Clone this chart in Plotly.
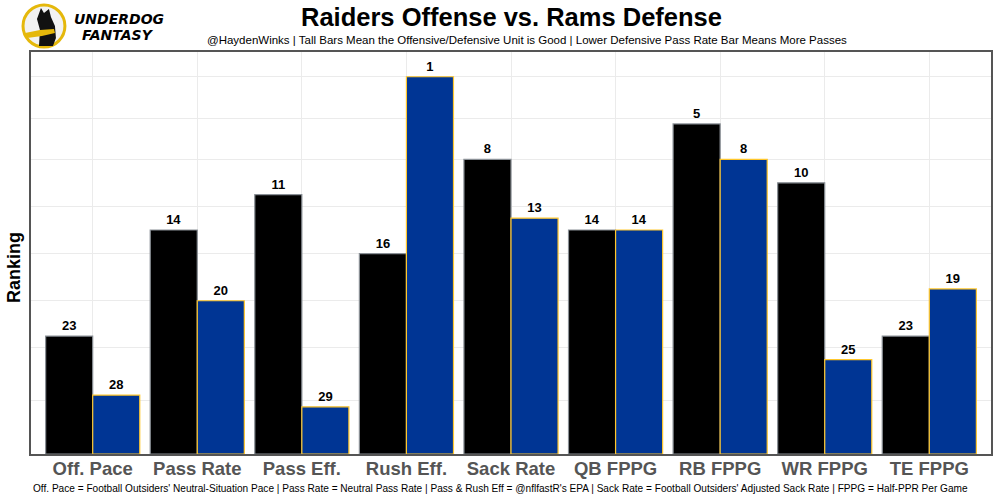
import plotly.graph_objects as go

categories = ["Off. Pace", "Pass Rate", "Pass Eff.", "Rush Eff.", "Sack Rate",
              "QB FPPG", "RB FPPG", "WR FPPG", "TE FPPG"]
offense_rank = [23, 14, 11, 16, 8, 14, 5, 10, 23]
defense_rank = [28, 20, 29, 1, 13, 14, 8, 25, 19]
grid_vals = [4.5, 9, 13, 17, 21, 25, 28.5, 32]

N_TEAMS = 33
off_h = [N_TEAMS - r for r in offense_rank]
def_h = [N_TEAMS - r for r in defense_rank]

W, H = 1000, 500
L, R, T, B = 31, 7, 52, 46
PW, PH = W - L - R, H - T - B

def px(x):
    return (x - L) / PW

def py(y):
    return (H - B - y) / PH

fig = go.Figure()
fig.add_bar(x=categories, y=off_h, text=[str(r) for r in offense_rank],
            marker=dict(color="#000000", line=dict(color="#8a9096", width=1.2)),
            textposition="outside", cliponaxis=False,
            textfont=dict(family="Liberation Sans, Arial", size=13, color="#000000"),
            name="Offense")
fig.add_bar(x=categories, y=def_h, text=[str(r) for r in defense_rank],
            marker=dict(color="#003594", line=dict(color="#FFC72C", width=1.2)),
            textposition="outside", cliponaxis=False,
            textfont=dict(family="Liberation Sans, Arial", size=13, color="#000000"),
            name="Defense")
fig.update_traces(texttemplate="<b>%{text}</b>", hoverinfo="skip")

shapes = []
# logo
cx, cy, r = 44, 26, 21
shapes.append(dict(type="circle", xref="paper", yref="paper",
                   x0=px(cx - r), x1=px(cx + r), y0=py(cy + r), y1=py(cy - r),
                   fillcolor="#f2f2f2", line=dict(color="#E5B80B", width=3)))
dog = [(39, 46), (40, 30), (37, 19), (41, 8), (44, 13), (49, 9), (51, 17),
       (55, 26), (56, 38), (53, 46)]
path = "M " + " L ".join(f"{px(x)},{py(y)}" for x, y in dog) + " Z"
shapes.append(dict(type="path", xref="paper", yref="paper", path=path,
                   fillcolor="#111111", line=dict(width=0)))
scarf = [(25, 33), (40, 30), (54, 29), (55, 33), (42, 36), (27, 38)]
path2 = "M " + " L ".join(f"{px(x)},{py(y)}" for x, y in scarf) + " Z"
shapes.append(dict(type="path", xref="paper", yref="paper", path=path2,
                   fillcolor="#E5B80B", line=dict(width=0)))

annotations = [
    dict(text="<b><i>UNDERDOG</i></b>", x=px(72), y=py(19), xref="paper", yref="paper",
         xanchor="left", yanchor="middle", showarrow=False,
         font=dict(family="DejaVu Sans", size=14, color="#000")),
    dict(text="<b><i>FANTASY</i></b>", x=px(80), y=py(35), xref="paper", yref="paper",
         xanchor="left", yanchor="middle", showarrow=False,
         font=dict(family="DejaVu Sans", size=14, color="#000")),
    dict(text="<b>Raiders Offense vs. Rams Defense</b>", x=px(513), y=py(17),
         xref="paper", yref="paper", xanchor="center", yanchor="middle", showarrow=False,
         font=dict(family="Liberation Sans, Arial", size=25.5, color="#000")),
    dict(text="@HaydenWinks | Tall Bars Mean the Offensive/Defensive Unit is Good | Lower Defensive Pass Rate Bar Means More Passes",
         x=px(528), y=py(40), xref="paper", yref="paper", xanchor="center", yanchor="middle",
         showarrow=False, font=dict(family="Liberation Sans, Arial", size=11.5, color="#000")),
    dict(text="Off. Pace = Football Outsiders' Neutral-Situation Pace | Pass Rate = Neutral Pass Rate | Pass & Rush Eff = @nflfastR's EPA | Sack Rate = Football Outsiders' Adjusted Sack Rate | FPPG = Half-PPR Per Game",
         x=px(501), y=py(488), xref="paper", yref="paper", xanchor="center", yanchor="middle",
         showarrow=False, font=dict(family="Liberation Sans, Arial", size=10.1, color="#000")),
    dict(text="<b>Ranking</b>", x=px(14), y=py(268), xref="paper", yref="paper",
         xanchor="center", yanchor="middle", showarrow=False, textangle=-90,
         font=dict(family="Liberation Sans, Arial", size=18, color="#000")),
]

fig.update_layout(
    width=W, height=H, margin=dict(l=L, r=R, t=T, b=B),
    paper_bgcolor="white", plot_bgcolor="white",
    barmode="group", bargap=0.1, bargroupgap=0,
    showlegend=False, shapes=shapes, annotations=annotations,
    font=dict(family="Liberation Sans, Arial"),
    hovermode=False,
)
fig.update_xaxes(range=[-0.59, 8.59], showgrid=True, gridcolor="#ebebeb", gridwidth=1,
                 showline=True, linecolor="#555555", linewidth=1.5, mirror=True,
                 ticks="", tickfont=dict(size=18.5, color="#555555", family="Liberation Sans, Arial"),
                 tickprefix="<b>", ticksuffix="</b>", ticklabelstandoff=-3)
fig.update_yaxes(range=[0, 34.1], tickvals=grid_vals, showticklabels=False,
                 showgrid=True, gridcolor="#ebebeb", gridwidth=1, zeroline=False,
                 showline=True, linecolor="#555555", linewidth=1.5, mirror=True, ticks="")

fig.write_html("out.html", config={"displayModeBar": False},
               post_script="document.body.style.margin='0';")
